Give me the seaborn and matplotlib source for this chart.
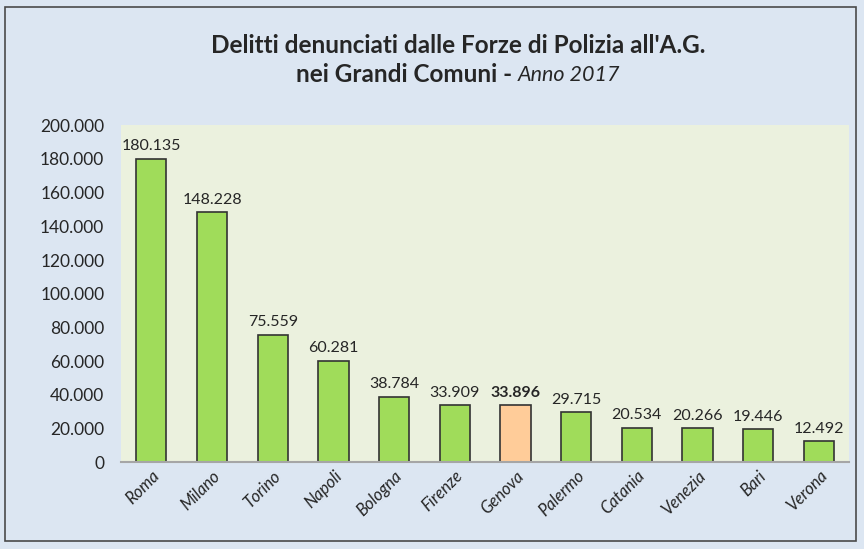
import matplotlib
matplotlib.use("Agg")
import matplotlib.pyplot as plt
import seaborn as sns
import pandas as pd
from matplotlib.patches import Rectangle
from matplotlib.ticker import FuncFormatter

# dati
comuni = ["Roma", "Milano", "Torino", "Napoli", "Bologna", "Firenze", "Genova",
          "Palermo", "Catania", "Venezia", "Bari", "Verona"]
delitti = [180135, 148228, 75559, 60281, 38784, 33909, 33896, 29715, 20534,
           20266, 19446, 12492]
evidenziato = "Genova"

sns.set_theme(style="white")
plt.rcParams["font.family"] = ["Lato", "DejaVu Sans"]

df = pd.DataFrame({"comune": comuni, "delitti": delitti})
colori = {c: ("#FFCC99" if c == evidenziato else "#A0DC5A") for c in comuni}

fig = plt.figure(figsize=(8.64, 5.49), dpi=100)
fig.patch.set_facecolor("#DCE6F2")
fig.patches.append(Rectangle((0.006, 0.014), 0.985, 0.973, transform=fig.transFigure,
                             fill=False, edgecolor="#4a4a4a", linewidth=1.2))

ax = fig.add_axes([0.140, 0.158, 0.843, 0.614])
ax.set_facecolor("#EBF1DE")
sns.barplot(data=df, x="comune", y="delitti", hue="comune", palette=colori,
            saturation=1, width=0.5, edgecolor="#333333", linewidth=1.2,
            legend=False, ax=ax)

ax.set_ylim(0, 200000)
ax.set_yticks(range(0, 200001, 20000))
ax.yaxis.set_major_formatter(FuncFormatter(lambda v, p: f"{int(v):,}".replace(",", ".")))
ax.tick_params(axis="y", labelsize=12.5, length=0, pad=12)
ax.tick_params(axis="x", labelsize=12, length=0, pad=4)
for lab in ax.get_xticklabels():
    lab.set_rotation(45)
    lab.set_ha("right")
    lab.set_rotation_mode("anchor")
    lab.set_style("italic")
ax.set_xlabel("")
ax.set_ylabel("")
ax.set_xlim(-0.5, len(comuni) - 0.5)
for s in ["top", "right", "left"]:
    ax.spines[s].set_visible(False)
ax.spines["bottom"].set_color("#a6a6a6")
ax.spines["bottom"].set_linewidth(1.5)

for i, (c, v) in enumerate(zip(comuni, delitti)):
    ax.annotate(f"{v:,}".replace(",", "."), (i, v), xytext=(0, 4),
                textcoords="offset points", ha="center", va="bottom", fontsize=11.5,
                fontweight="bold" if c == evidenziato else "normal")

fig.text(0.53, 0.918, "Delitti denunciati dalle Forze di Polizia all'A.G.",
         ha="center", va="center", fontsize=17.5, fontweight="bold")

# seconda riga: parte in grassetto + parte in corsivo, centrata insieme
renderer = fig.canvas.get_renderer()
ya = 0.864
t1 = fig.text(0, ya, "nei Grandi Comuni - ", ha="left", va="center",
              fontsize=17.5, fontweight="bold")
t2 = fig.text(0, ya, "Anno 2017", ha="left", va="center", fontsize=15.5, style="italic")
w1 = t1.get_window_extent(renderer).width / fig.bbox.width
w2 = t2.get_window_extent(renderer).width / fig.bbox.width
x0 = 0.53 - (w1 + w2) / 2
t1.set_x(x0)
t2.set_x(x0 + w1)

fig.savefig("out.png", dpi=100, facecolor=fig.get_facecolor())
